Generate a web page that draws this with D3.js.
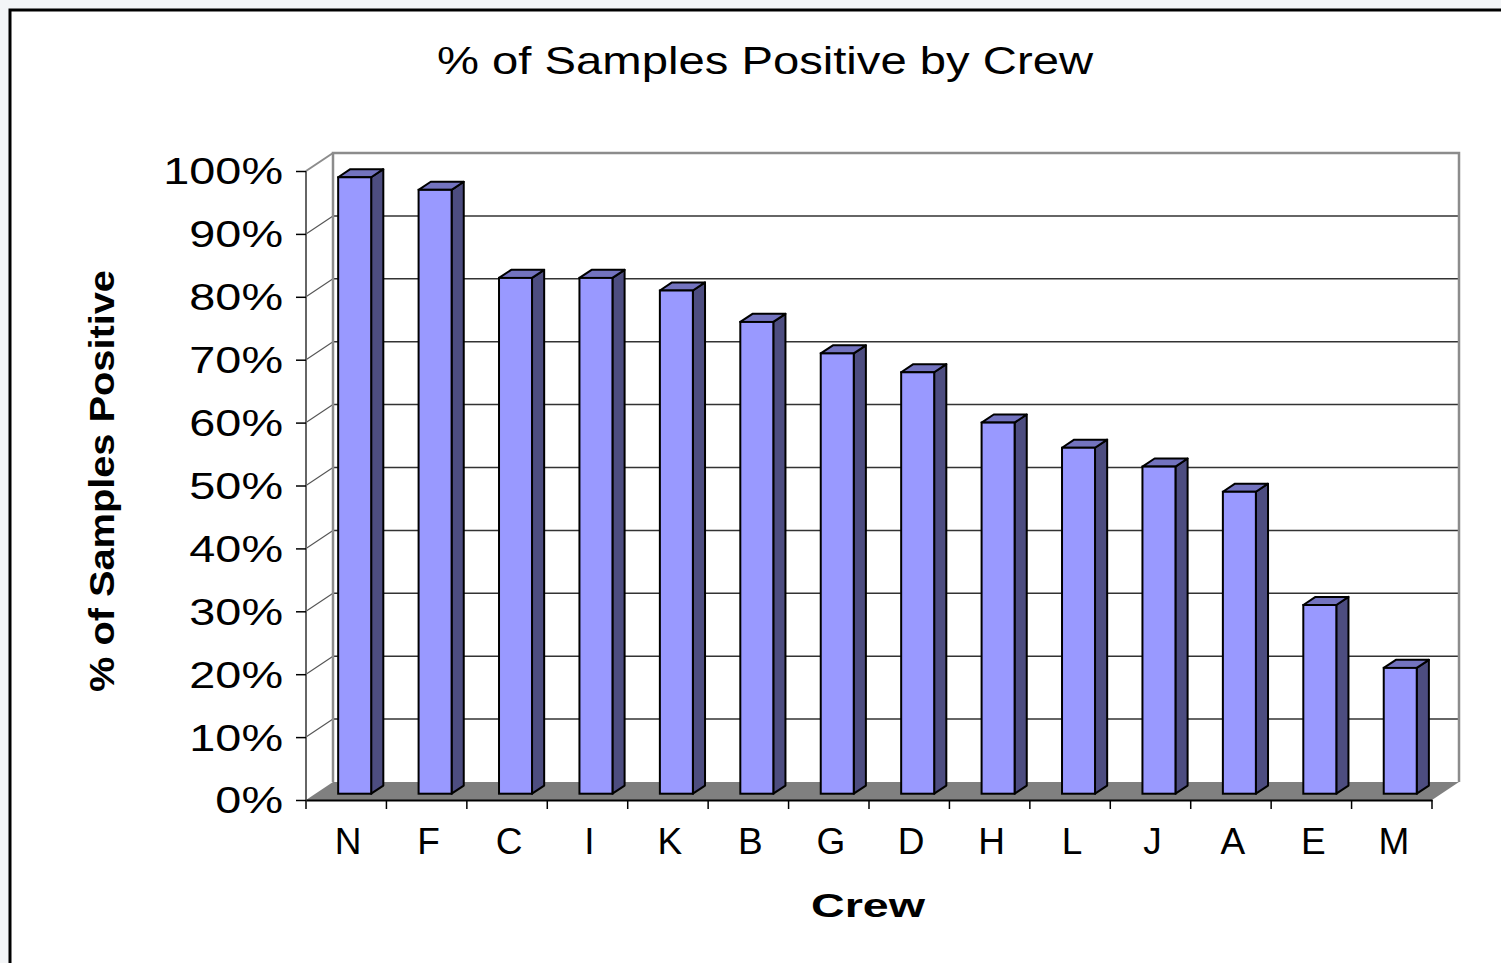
<!DOCTYPE html>
<html>
<head>
<meta charset="utf-8">
<script src="https://cdn.jsdelivr.net/npm/d3@7"></script>
<style>
  html, body { margin: 0; padding: 0; background: #f3f5f7; }
  svg { display: block; }
</style>
</head>
<body>
<div id="chart"></div>
<script>
// data
const crews = ['N', 'F', 'C', 'I', 'K', 'B', 'G', 'D', 'H', 'L', 'J', 'A', 'E', 'M'];
const pctPositive = [0.98, 0.96, 0.82, 0.82, 0.80, 0.75, 0.70, 0.67, 0.59, 0.55, 0.52, 0.48, 0.30, 0.20];
const yTicks = [0, 0.1, 0.2, 0.3, 0.4, 0.5, 0.6, 0.7, 0.8, 0.9, 1.0];

const W = 1501, H = 963;
const DX = 27, DY = 18;          // depth of the 3d box
const barFront = 0.35, barBack = 0.8;  // bar position inside the depth

const svg = d3.select('#chart').append('svg')
  .attr('width', W).attr('height', H)
  .style('font-family', 'Liberation Sans, Arial, sans-serif');

// chart area + border
svg.append('rect').attr('x', 10).attr('y', 10).attr('width', W).attr('height', H)
  .attr('fill', '#fff').attr('stroke', '#000').attr('stroke-width', 3);

const x = d3.scaleBand().domain(crews).range([306, 1432]).padding(0);
const y = d3.scaleLinear().domain([0, 1]).range([800, 171]);
const x0 = x.range()[0], x1 = x.range()[1];

const g = svg.append('g');

// gridlines on back wall and side wall
yTicks.filter(t => t > 0 && t < 1).forEach(t => {
  g.append('line')
    .attr('x1', x0 + DX).attr('x2', x1 + DX)
    .attr('y1', y(t) - DY).attr('y2', y(t) - DY)
    .attr('stroke', '#333').attr('stroke-width', 1.5);
  g.append('line')
    .attr('x1', x0).attr('x2', x0 + DX)
    .attr('y1', y(t)).attr('y2', y(t) - DY)
    .attr('stroke', '#555').attr('stroke-width', 1.2);
});

// wall edges
const wallStroke = '#8c8c8c';
g.append('path')
  .attr('d', `M${x0 + DX},${y(0) - DY} V${y(1) - DY} H${x1 + DX} V${y(0) - DY}`)
  .attr('fill', 'none').attr('stroke', wallStroke).attr('stroke-width', 2.5);
g.append('line')
  .attr('x1', x0).attr('y1', y(1)).attr('x2', x0 + DX).attr('y2', y(1) - DY)
  .attr('stroke', wallStroke).attr('stroke-width', 2);

// floor
g.append('path')
  .attr('d', `M${x0},${y(0)} L${x1},${y(0)} L${x1 + DX},${y(0) - DY} L${x0 + DX},${y(0) - DY} Z`)
  .attr('fill', '#808080');

// value axis line
g.append('line')
  .attr('x1', x0).attr('x2', x0).attr('y1', y(0)).attr('y2', y(1))
  .attr('stroke', '#666').attr('stroke-width', 2);

// bars
const bw = 33;
const bars = g.selectAll('.bar').data(crews.map((c, i) => ({ c, v: pctPositive[i] })))
  .enter().append('g').attr('class', 'bar');

const fx = d => x(d.c) + x.bandwidth() / 2 + barFront * DX - bw / 2 - 1;
const oy = DY * barFront;
const bdx = DX * (barBack - barFront), bdy = DY * (barBack - barFront);

bars.append('path')  // side
  .attr('d', d => {
    const l = fx(d) + bw, t = y(d.v) - oy, b = y(0) - oy;
    return `M${l},${b} L${l},${t} L${l + bdx},${t - bdy} L${l + bdx},${b - bdy} Z`;
  })
  .attr('fill', '#4d4d80').attr('stroke', '#000').attr('stroke-width', 2).attr('stroke-linejoin', 'round');
bars.append('path')  // top
  .attr('d', d => {
    const l = fx(d), t = y(d.v) - oy;
    return `M${l},${t} L${l + bdx},${t - bdy} L${l + bw + bdx},${t - bdy} L${l + bw},${t} Z`;
  })
  .attr('fill', '#7373bf').attr('stroke', '#000').attr('stroke-width', 2).attr('stroke-linejoin', 'round');
bars.append('rect')  // front
  .attr('x', d => fx(d)).attr('y', d => y(d.v) - oy)
  .attr('width', bw).attr('height', d => y(0) - y(d.v))
  .attr('fill', '#9999ff').attr('stroke', '#000').attr('stroke-width', 2);

// y axis ticks + labels
const yAxis = g.append('g').attr('transform', `translate(${x0},0)`)
  .call(d3.axisLeft(y).tickValues(yTicks).tickFormat(d3.format('.0%')).tickSize(10).tickPadding(13));
yAxis.select('.domain').remove();
yAxis.selectAll('.tick line').attr('stroke', '#000').attr('stroke-width', 1.5);
yAxis.selectAll('.tick text')
  .attr('fill', '#000').style('font-size', '36px').attr('dy', '0.36em')
  .each(function () {
    const w = this.getComputedTextLength();
    d3.select(this).attr('textLength', w * 1.3).attr('lengthAdjust', 'spacingAndGlyphs');
  });

// x axis
const xAxis = g.append('g').attr('transform', `translate(0,${y(0)})`)
  .call(d3.axisBottom(x).tickSize(0).tickPadding(28));
xAxis.select('.domain').attr('stroke', '#000').attr('stroke-width', 2);
xAxis.selectAll('.tick text').attr('fill', '#000').style('font-size', '37px')
  .attr('dx', 2).attr('dy', '0.71em');
// separators between categories
xAxis.selectAll('.sep').data(d3.range(crews.length + 1)).enter().append('line')
  .attr('x1', i => x0 + i * x.bandwidth()).attr('x2', i => x0 + i * x.bandwidth())
  .attr('y1', 0).attr('y2', 9).attr('stroke', '#000').attr('stroke-width', 1.5);

// titles
svg.append('text').attr('x', 765).attr('y', 74).attr('text-anchor', 'middle')
  .style('font-size', '39px').attr('textLength', 656).attr('lengthAdjust', 'spacingAndGlyphs')
  .text('% of Samples Positive by Crew');

svg.append('text').attr('transform', 'translate(114,481) rotate(-90)').attr('text-anchor', 'middle')
  .style('font-size', '35px').style('font-weight', 'bold')
  .attr('textLength', 422).attr('lengthAdjust', 'spacingAndGlyphs')
  .text('% of Samples Positive');

svg.append('text').attr('x', 868).attr('y', 917).attr('text-anchor', 'middle')
  .style('font-size', '34px').style('font-weight', 'bold')
  .attr('textLength', 114).attr('lengthAdjust', 'spacingAndGlyphs')
  .text('Crew');
</script>
</body>
</html>
